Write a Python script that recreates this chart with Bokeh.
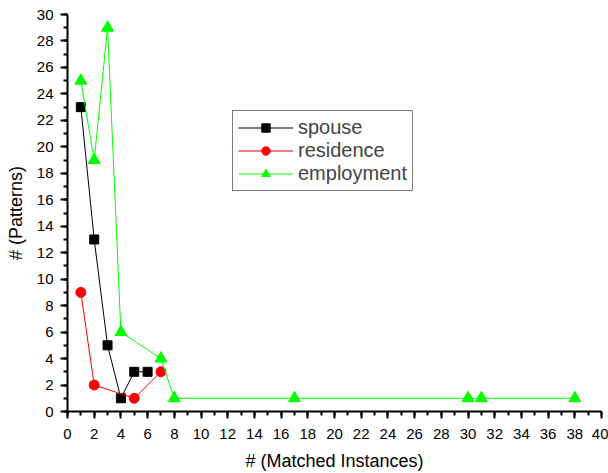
from bokeh.plotting import figure
from bokeh.models import Range1d, FixedTicker, Legend, LegendItem
from bokeh.embed import file_html
from bokeh.resources import INLINE

spouse_x = [1, 2, 3, 4, 5, 6]
spouse_y = [23, 13, 5, 1, 3, 3]
residence_x = [1, 2, 5, 7]
residence_y = [9, 2, 1, 3]
employment_x = [1, 2, 3, 4, 7, 8, 17, 30, 31, 38]
employment_y = [25, 19, 29, 6, 4, 1, 1, 1, 1, 1]

x_ticks = list(range(0, 41, 2))
x_minor = list(range(0, 41, 1))
y_ticks = list(range(0, 31, 2))
y_minor = list(range(0, 31, 1))

FONT = "Liberation Sans"

p = figure(width=608, height=473, output_backend="svg", toolbar_location=None,
           x_range=Range1d(0, 40), y_range=Range1d(0, 30),
           min_border_left=67, min_border_right=7, min_border_top=14, min_border_bottom=60)
p.outline_line_color = None
p.xgrid.visible = False
p.ygrid.visible = False

r1l = p.line(spouse_x, spouse_y, line_color="black", line_width=1)
r1m = p.scatter(spouse_x, spouse_y, marker="square", size=9, fill_color="black", line_color="black")
r2l = p.line(residence_x, residence_y, line_color="red", line_width=1)
r2m = p.scatter(residence_x, residence_y, marker="circle", size=10, fill_color="red", line_color="red")
r3l = p.line(employment_x, employment_y, line_color="#00ff00", line_width=1)
r3m = p.scatter(employment_x, employment_y, marker="triangle", size=12, fill_color="#00ff00", line_color="#00ff00")

for ax in (p.xaxis[0], p.yaxis[0]):
    ax.axis_line_width = 2
    ax.axis_line_color = "black"
    ax.major_tick_line_width = 2
    ax.minor_tick_line_width = 2
    ax.major_tick_out = 7
    ax.major_tick_in = 0
    ax.minor_tick_out = 4
    ax.minor_tick_in = 0
    ax.major_label_text_font = FONT
    ax.major_label_text_font_size = "15px"
    ax.major_label_text_color = "black"
    ax.axis_label_text_font = FONT
    ax.axis_label_text_font_size = "18px"
    ax.axis_label_text_font_style = "normal"
    ax.axis_label_text_color = "black"

p.xaxis[0].ticker = FixedTicker(ticks=x_ticks, minor_ticks=x_minor)
p.yaxis[0].ticker = FixedTicker(ticks=y_ticks, minor_ticks=y_minor)
p.xaxis[0].axis_label = "# (Matched Instances)"
p.yaxis[0].axis_label = "# (Patterns)"
p.xaxis[0].major_label_standoff = 10
p.xaxis[0].axis_label_standoff = 9
p.yaxis[0].major_label_standoff = 7
p.yaxis[0].axis_label_standoff = 8

legend = Legend(items=[
    LegendItem(label="spouse", renderers=[r1l, r1m]),
    LegendItem(label="residence", renderers=[r2l, r2m]),
    LegendItem(label="employment", renderers=[r3l, r3m]),
], location=(165, 220))
legend.border_line_color = "black"
legend.border_line_width = 1
legend.background_fill_alpha = 1
legend.label_text_font = FONT
legend.label_text_font_size = "20px"
legend.glyph_width = 55
legend.glyph_height = 21
legend.label_height = 21
legend.label_standoff = 5
legend.spacing = 0
legend.padding = 5
legend.margin = 0
p.add_layout(legend, "center")

open("out.html", "w").write(file_html(p, INLINE))
